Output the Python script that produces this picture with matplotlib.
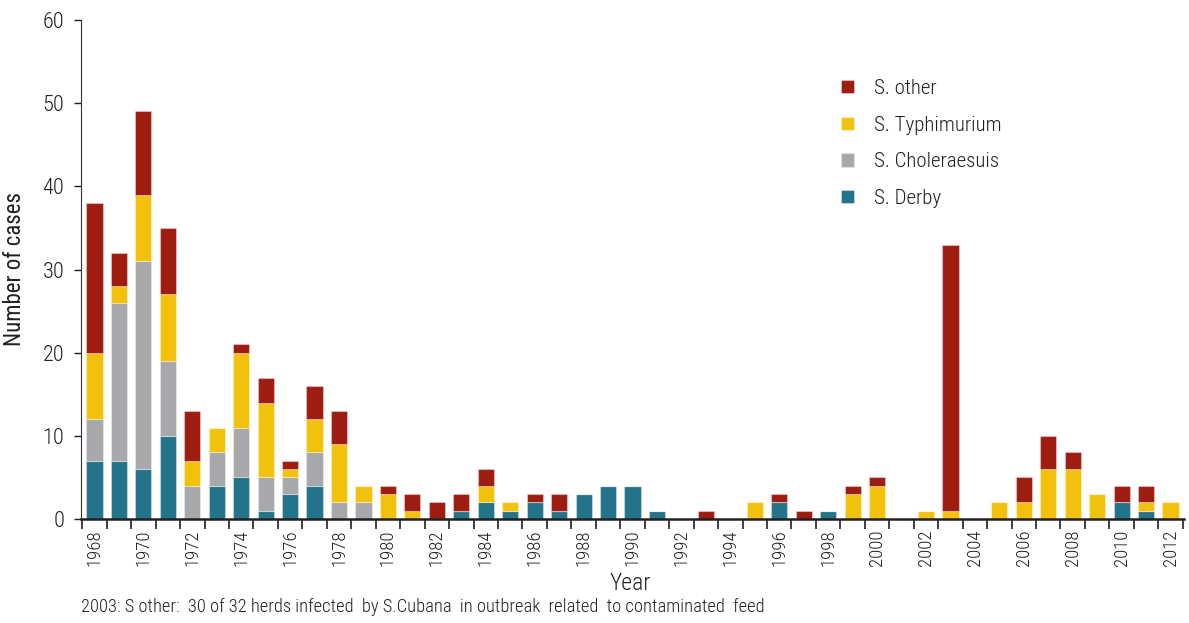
import matplotlib
matplotlib.use("Agg")
import matplotlib.pyplot as plt
import numpy as np

years = list(range(1968, 2013))
derby = [7, 7, 6, 10, 0, 4, 5, 1, 3, 4, 0, 0, 0, 0, 0, 1, 2, 1, 2, 1, 3, 4, 4, 1, 0,
         0, 0, 0, 2, 0, 1, 0, 0, 0, 0, 0, 0, 0, 0, 0, 0, 0, 2, 1, 0]
cholera = [5, 19, 25, 9, 4, 4, 6, 4, 2, 4, 2, 2, 0, 0, 0, 0, 0, 0, 0, 0, 0, 0, 0, 0, 0,
           0, 0, 0, 0, 0, 0, 0, 0, 0, 0, 0, 0, 0, 0, 0, 0, 0, 0, 0, 0]
typhi = [8, 2, 8, 8, 3, 3, 9, 9, 1, 4, 7, 2, 3, 1, 0, 0, 2, 1, 0, 0, 0, 0, 0, 0, 0,
         0, 0, 2, 0, 0, 0, 3, 4, 0, 1, 1, 0, 2, 2, 6, 6, 3, 0, 1, 2]
other = [18, 4, 10, 8, 6, 0, 1, 3, 1, 4, 4, 0, 1, 2, 2, 2, 2, 0, 1, 2, 0, 0, 0, 0, 0,
         1, 0, 0, 1, 1, 0, 1, 1, 0, 0, 32, 0, 0, 3, 4, 2, 0, 2, 2, 0]
series_names = ["S. Derby", "S. Choleraesuis", "S. Typhimurium", "S. other"]
colors = ["#23748A", "#A7A8AB", "#F2C10B", "#9E1C10"]
footnote = "2003: S other:  30 of 32 herds infected  by S.Cubana  in outbreak  related  to contaminated  feed"

plt.rcParams['font.family'] = ['Roboto Condensed', 'DejaVu Sans']
plt.rcParams['font.weight'] = 300
TXT = "#231F20"

fig = plt.figure(figsize=(11.89, 6.23), dpi=100)
ax = fig.add_axes([81/1189, 1-519/623, (1184-81)/1189, (519-20)/623])

x = np.arange(len(years))
bottom = np.zeros(len(years))
handles = []
for vals, c, name in zip([derby, cholera, typhi, other], colors, series_names):
    v = np.array(vals, dtype=float)
    b = ax.bar(x, v, 0.66, bottom=bottom, color=c, edgecolor=(1, 1, 1, 0.35),
               linewidth=0.8, label=name, zorder=2)
    handles.append(b)
    bottom += v

ax.set_xlim(-0.55, len(years) - 0.45)
ax.set_ylim(0, 60)
ax.set_yticks(range(0, 61, 10))
ax.tick_params(axis='y', labelsize=16, length=5, width=1, colors=TXT, pad=7)

ax.set_xticks(np.arange(-0.5, len(years), 1), minor=True)
ax.set_xticks(x[::2])
ax.set_xticklabels([str(y) for y in years[::2]], rotation=90)
ax.tick_params(axis='x', which='major', length=0, labelsize=13.5, pad=7.5, colors=TXT)
ax.tick_params(axis='x', which='minor', length=7, width=1.2, color=TXT)

for s in ['top', 'right']:
    ax.spines[s].set_visible(False)
ax.spines['left'].set_color("#333333")
ax.spines['bottom'].set_color(TXT)
ax.spines['bottom'].set_linewidth(1.8)

ax.set_ylabel("Number of cases", fontsize=16.5, color=TXT, labelpad=12)
fig.text(630/1189, 1-583/623, "Year", ha='center', va='center', fontsize=17, color=TXT)
fig.text(81/1189, 1-607/623, footnote, ha='left', va='center', fontsize=13.3, color=TXT)

leg = ax.legend(handles[::-1], series_names[::-1], loc='upper left',
                frameon=False, fontsize=15, handlelength=0.6, handleheight=0.6,
                labelspacing=0.85, handletextpad=1.0, borderpad=0, borderaxespad=0)
leg.set_bbox_to_anchor((841/1189, 1-79/623), transform=fig.transFigure)
for t in leg.get_texts():
    t.set_color(TXT)

fig.savefig("out.png", dpi=100)
